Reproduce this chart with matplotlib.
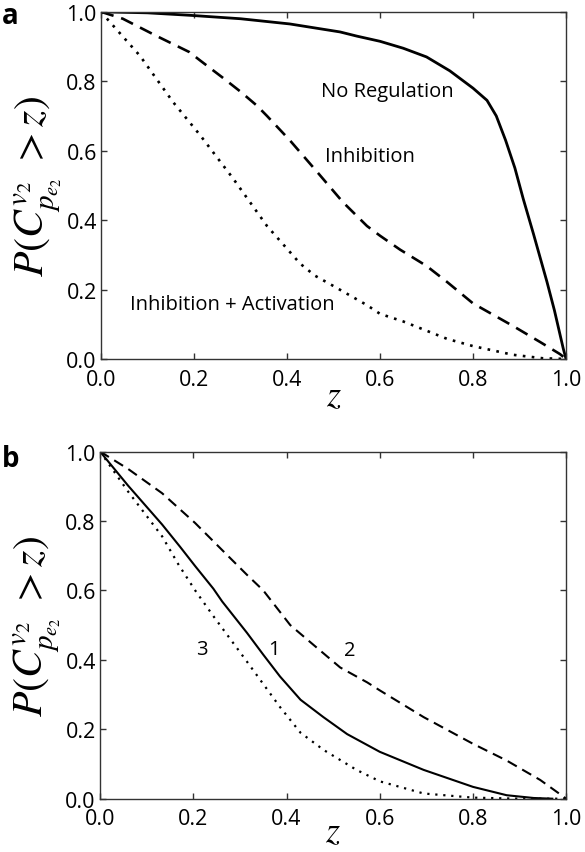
import numpy as np
import matplotlib.pyplot as plt

plt.rcParams['font.family'] = ['Open Sans', 'DejaVu Sans']
plt.rcParams['mathtext.fontset'] = 'stix'

# panel a: survival curves
z_a_solid = [0.0, 0.1, 0.19, 0.3, 0.406, 0.514, 0.55, 0.6, 0.65, 0.7, 0.75, 0.8, 0.83,
             0.85, 0.87, 0.89, 0.908, 0.93, 0.959, 0.975, 0.994, 1.0]
p_a_solid = [1.0, 0.997, 0.99, 0.98, 0.965, 0.942, 0.93, 0.915, 0.895, 0.87, 0.83, 0.78,
             0.745, 0.70, 0.63, 0.55, 0.461, 0.36, 0.222, 0.14, 0.03, 0.0]

z_a_dash = [0.0, 0.047, 0.12, 0.19, 0.213, 0.262, 0.3, 0.335, 0.357, 0.406, 0.464,
            0.52, 0.572, 0.6, 0.643, 0.7, 0.744, 0.8, 0.886, 0.944, 0.987, 1.0]
p_a_dash = [1.0, 0.98, 0.93, 0.884, 0.86, 0.81, 0.77, 0.73, 0.70, 0.63, 0.54,
            0.452, 0.383, 0.355, 0.315, 0.268, 0.222, 0.16, 0.095, 0.049, 0.014, 0.0]

z_a_dot = [0.0, 0.013, 0.084, 0.155, 0.213, 0.284, 0.357, 0.428, 0.46, 0.5, 0.572, 0.6,
           0.65, 0.744, 0.8, 0.886, 0.95, 1.0]
p_a_dot = [1.0, 0.98, 0.873, 0.74, 0.645, 0.52, 0.383, 0.275, 0.24, 0.21, 0.155, 0.13,
           0.108, 0.058, 0.037, 0.012, 0.002, 0.0]

# panel b
z_b1 = [0.0, 0.06, 0.133, 0.172, 0.204, 0.243, 0.262, 0.315, 0.35, 0.386, 0.43, 0.479,
        0.53, 0.6, 0.694, 0.8, 0.872, 0.93, 0.97]
p_b1 = [1.0, 0.902, 0.79, 0.725, 0.67, 0.605, 0.568, 0.478, 0.415, 0.352, 0.285, 0.235,
        0.186, 0.135, 0.083, 0.034, 0.01, 0.002, 0.0]

z_b2 = [0.0, 0.06, 0.133, 0.204, 0.262, 0.315, 0.35, 0.408, 0.457, 0.515, 0.573, 0.6,
        0.694, 0.8, 0.872, 0.944, 1.0]
p_b2 = [1.0, 0.95, 0.88, 0.794, 0.716, 0.645, 0.60, 0.50, 0.444, 0.378, 0.335, 0.312,
        0.235, 0.158, 0.11, 0.054, 0.0]

z_b3 = [0.0, 0.06, 0.133, 0.168, 0.204, 0.243, 0.315, 0.386, 0.43, 0.48, 0.55, 0.6,
        0.694, 0.8, 0.9, 1.0]
p_b3 = [1.0, 0.885, 0.756, 0.675, 0.6, 0.526, 0.395, 0.264, 0.19, 0.14, 0.083, 0.05,
        0.015, 0.003, 0.0, 0.0]

ticks = [0.0, 0.2, 0.4, 0.6, 0.8, 1.0]
tick_labels = ['0.0', '0.2', '0.4', '0.6', '0.8', '1.0']
ylab = r'$P(C^{v_2}_{p_{e_2}}\;>z)$'

fig = plt.figure(figsize=(5.85, 8.53), dpi=100)


def style_axes(ax, zpad):
    ax.set_xlim(0, 1)
    ax.set_ylim(0, 1)
    ax.set_xticks(ticks)
    ax.set_yticks(ticks)
    ax.set_xticklabels(tick_labels)
    ax.set_yticklabels(tick_labels)
    ax.tick_params(direction='in', top=True, right=True, labelsize=15.5, length=4,
                   width=1, color='#333333')
    ax.tick_params(axis='x', pad=7)
    ax.tick_params(axis='y', pad=3)
    for s in ax.spines.values():
        s.set_linewidth(1.0)
        s.set_color('#333333')
    ax.set_xlabel(r'$z$', fontsize=26, labelpad=zpad)
    ax.set_ylabel(ylab, fontsize=30, labelpad=2)


ax1 = fig.add_axes([0.1726, 0.578, 0.795, 0.407])
ax1.plot(z_a_solid, p_a_solid, 'k-', lw=2.0)
ax1.plot(z_a_dash, p_a_dash, 'k', ls=(0, (5, 3)), lw=1.9)
ax1.plot(z_a_dot, p_a_dot, 'k', ls=(0, (1, 2.4)), lw=1.9)
ax1.text(0.615, 0.772, 'No Regulation', fontsize=14.5, ha='center', va='center')
ax1.text(0.578, 0.585, 'Inhibition', fontsize=14.5, ha='center', va='center')
ax1.text(0.282, 0.158, 'Inhibition + Activation', fontsize=14.5, ha='center', va='center')
style_axes(ax1, -8)
fig.text(0.004, 0.998, 'a', fontsize=20, fontweight='bold', va='top')

ax2 = fig.add_axes([0.171, 0.0625, 0.797, 0.407])
ax2.plot(z_b1, p_b1, 'k-', lw=1.5)
ax2.plot(z_b2, p_b2, 'k', ls=(0, (5, 3)), lw=1.5)
ax2.plot(z_b3, p_b3, 'k', ls=(0, (1, 2.6)), lw=1.6)
ax2.text(0.219, 0.43, '3', fontsize=14.5, ha='center', va='center')
ax2.text(0.373, 0.43, '1', fontsize=14.5, ha='center', va='center')
ax2.text(0.536, 0.427, '2', fontsize=14.5, ha='center', va='center')
style_axes(ax2, -11)
fig.text(0.004, 0.478, 'b', fontsize=20, fontweight='bold', va='top')

fig.savefig('out.png', dpi=100)
